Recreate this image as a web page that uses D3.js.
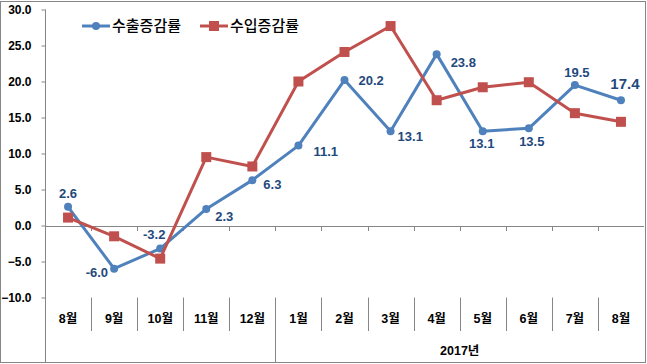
<!DOCTYPE html>
<html>
<head>
<meta charset="utf-8">
<script src="https://cdn.jsdelivr.net/npm/d3@7"></script>
<style>
  body { margin: 0; background: #fff; }
  text { font-family: "Liberation Sans", "Noto Sans CJK KR", sans-serif; }
</style>
</head>
<body>
<div id="chart"></div>
<script>
///// Data

let months = ["8월", "9월", "10월", "11월", "12월", "1월", "2월", "3월", "4월", "5월", "6월", "7월", "8월"];
let yearLabel = "2017년";
let seriesNames = ["수출증감률", "수입증감률"];
let exportRate = [2.6, -6.0, -3.2, 2.3, 6.3, 11.1, 20.2, 13.1, 23.8, 13.1, 13.5, 19.5, 17.4];
let importRate = [1.1, -1.5, -4.6, 9.5, 8.2, 20.0, 24.1, 27.7, 17.4, 19.2, 19.9, 15.6, 14.4];
let yTicks = [-10, -5, 0, 5, 10, 15, 20, 25, 30];

// label placement for the export values (offset from the point)
let labelOffsets = [
    [0, -13, "middle"], [-6, 4, "end"], [-6, -14, "middle"], [9, 8, "start"],
    [11, 4, "start"], [15, 6, "start"], [14, 0, "start"], [7, 5, "start"],
    [14, 8, "start"], [-1, 12, "middle"], [3, 13, "middle"], [2, -13, "middle"],
    [4, -16, "middle"]
];

///// D3

let W = 647, H = 364;
let blue = "#4F81BD", red = "#C0504D", axisColor = "#868686", labelColor = "#1F497D";

let x = d3.scaleBand().domain(d3.range(months.length)).range([45, 644]);
let y = d3.scaleLinear().domain([-10, 30]).range([297.5, 9.5]);

let svg = d3.select("#chart")
    .append("svg")
    .attr("width", W)
    .attr("height", H);

// outer frame
svg.append("rect")
    .attr("x", 0.5).attr("y", 1.5)
    .attr("width", 645).attr("height", 361)
    .attr("fill", "#fff")
    .attr("stroke", axisColor);

// y axis
let yAxis = svg.append("g")
    .attr("transform", "translate(45.5,0)")
    .call(d3.axisLeft(y).tickValues(yTicks).tickSize(4).tickPadding(10).tickFormat(d3.format(".1f")));
yAxis.select(".domain").remove();
yAxis.selectAll("line").attr("stroke", axisColor);
yAxis.selectAll("text")
    .attr("fill", "#000")
    .style("font-size", "12px")
    .style("font-weight", "bold");

svg.append("line")
    .attr("x1", 45.5).attr("x2", 45.5)
    .attr("y1", y(30)).attr("y2", 362)
    .attr("stroke", axisColor);

// zero line with tick marks
let bounds = d3.range(months.length + 1).map(function(i) {
    return i < months.length ? x(i) : x.range()[1];
});

svg.append("line")
    .attr("x1", 45).attr("x2", 644)
    .attr("y1", Math.round(y(0)) + 0.5).attr("y2", Math.round(y(0)) + 0.5)
    .attr("stroke", axisColor);

svg.selectAll(".zero-tick")
    .data(bounds.slice(1, -1))
    .enter().append("line")
    .attr("x1", function(d) { return Math.round(d) + 0.5; })
    .attr("x2", function(d) { return Math.round(d) + 0.5; })
    .attr("y1", Math.round(y(0)))
    .attr("y2", Math.round(y(0)) + 5)
    .attr("stroke", axisColor);

// category dividers under the plot
svg.selectAll(".divider")
    .data(bounds.slice(1, -1))
    .enter().append("line")
    .attr("x1", function(d) { return Math.round(d) + 0.5; })
    .attr("x2", function(d) { return Math.round(d) + 0.5; })
    .attr("y1", y(-10))
    .attr("y2", function(d, i) { return i === 4 ? 362 : 331; })
    .attr("stroke", axisColor);

svg.selectAll(".month")
    .data(months)
    .enter().append("text")
    .attr("x", function(d, i) { return x(i) + x.bandwidth() / 2; })
    .attr("y", 319)
    .attr("dy", "0.35em")
    .attr("text-anchor", "middle")
    .style("font-size", "12.5px")
    .style("font-weight", "bold")
    .text(function(d) { return d; });

svg.append("text")
    .attr("x", (x(5) + x.range()[1]) / 2)
    .attr("y", 351)
    .attr("dy", "0.35em")
    .attr("text-anchor", "middle")
    .style("font-size", "12.5px")
    .style("font-weight", "bold")
    .text(yearLabel);

// lines
let cx = function(d, i) { return x(i) + x.bandwidth() / 2; };
let line = d3.line().x(cx).y(function(d) { return y(d); });

svg.append("path")
    .datum(exportRate)
    .attr("fill", "none")
    .attr("stroke", blue)
    .attr("stroke-width", 3)
    .attr("stroke-linejoin", "round")
    .attr("d", line);

svg.selectAll(".dot")
    .data(exportRate)
    .enter().append("circle")
    .attr("cx", cx)
    .attr("cy", function(d) { return y(d); })
    .attr("r", 4)
    .attr("fill", blue);

svg.append("path")
    .datum(importRate)
    .attr("fill", "none")
    .attr("stroke", red)
    .attr("stroke-width", 3)
    .attr("stroke-linejoin", "round")
    .attr("d", line);

svg.selectAll(".sq")
    .data(importRate)
    .enter().append("rect")
    .attr("x", function(d, i) { return cx(d, i) - 5; })
    .attr("y", function(d) { return y(d) - 5; })
    .attr("width", 10)
    .attr("height", 10)
    .attr("fill", red);

// data labels
svg.selectAll(".lbl")
    .data(exportRate)
    .enter().append("text")
    .attr("x", function(d, i) { return cx(d, i) + labelOffsets[i][0]; })
    .attr("y", function(d, i) { return y(d) + labelOffsets[i][1]; })
    .attr("dy", "0.35em")
    .attr("text-anchor", function(d, i) { return labelOffsets[i][2]; })
    .attr("fill", labelColor)
    .style("font-size", function(d, i) { return i === exportRate.length - 1 ? "15px" : "13px"; })
    .style("font-weight", "bold")
    .text(function(d) { return d.toFixed(1); });

// legend
let legend = svg.append("g").attr("transform", "translate(82,26)");
let legendItems = legend.selectAll("g")
    .data(seriesNames)
    .enter().append("g")
    .attr("transform", function(d, i) { return "translate(" + (i * 118) + ",0)"; });

legendItems.append("line")
    .attr("x1", 0).attr("x2", 28)
    .attr("stroke", function(d, i) { return i ? red : blue; })
    .attr("stroke-width", 3);

legendItems.filter(function(d, i) { return i === 0; })
    .append("circle").attr("cx", 14).attr("r", 4).attr("fill", blue);

legendItems.filter(function(d, i) { return i === 1; })
    .append("rect").attr("x", 9).attr("y", -5).attr("width", 10).attr("height", 10).attr("fill", red);

legendItems.append("text")
    .attr("x", 30)
    .attr("dy", "0.35em")
    .style("font-family", "'Noto Sans CJK KR', sans-serif")
    .style("font-size", "15px")
    .style("font-weight", "500")
    .text(function(d) { return d; });
</script>
</body>
</html>
